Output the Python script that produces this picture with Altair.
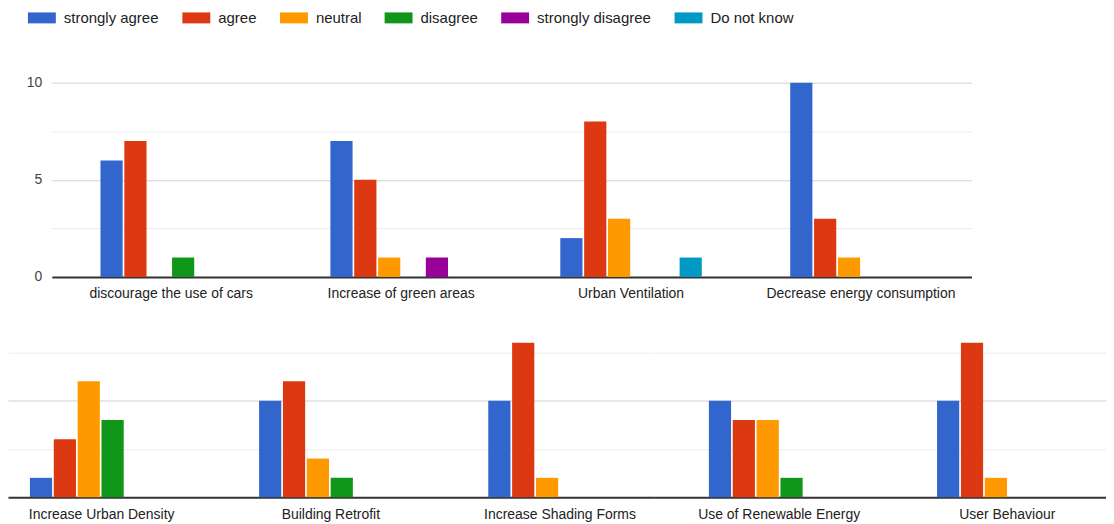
import altair as alt
import pandas as pd

responses = ["strongly agree", "agree", "neutral", "disagree", "strongly disagree", "Do not know"]
colors = ["#3366cc", "#dc3912", "#ff9900", "#109618", "#990099", "#0099c6"]

# Top panel
top_categories = ["discourage the use of cars", "Increase of green areas",
                  "Urban Ventilation", "Decrease energy consumption"]
top_strongly_agree = [6, 7, 2, 10]
top_agree = [7, 5, 8, 3]
top_neutral = [0, 1, 3, 1]
top_disagree = [1, 0, 0, 0]
top_strongly_disagree = [0, 1, 0, 0]
top_do_not_know = [0, 0, 1, 0]
top_axis_labels = [0, 5, 10]

# Bottom-left panel
bl_categories = ["Increase Urban Density", "Building Retrofit", "Increase Shading Forms"]
bl_strongly_agree = [1, 5, 5]
bl_agree = [3, 6, 8]
bl_neutral = [6, 2, 1]
bl_disagree = [4, 1, 0]
bl_strongly_disagree = [0, 0, 0]
bl_do_not_know = [0, 0, 0]

# Bottom-right panel
br_categories = ["Use of Renewable Energy", "User Behaviour"]
br_strongly_agree = [5, 5]
br_agree = [4, 8]
br_neutral = [4, 1]
br_disagree = [1, 0]
br_strongly_disagree = [0, 0]
br_do_not_know = [0, 0]

FONT = "Liberation Sans"


def frame(cats, series):
    rows = []
    for resp, vals in zip(responses, series):
        for c, v in zip(cats, vals):
            rows.append({"category": c, "response": resp, "count": v})
    return pd.DataFrame(rows)


def panel(cats, series, width, height, ymax, grid_values, pi, po, align, xpad):
    df = frame(cats, series)
    grid_color = alt.condition("datum.value % 5 === 0", alt.value("#d0d0d0"), alt.value("#ebebeb"))
    yaxis = alt.Axis(title=None, values=grid_values, labels=False,
                     domain=False, ticks=False, gridColor=grid_color)
    return alt.Chart(df).mark_bar().encode(
        x=alt.X("category:N", sort=cats,
                scale=alt.Scale(paddingInner=pi, paddingOuter=po, align=align),
                axis=alt.Axis(title=None, labelAngle=0, ticks=False, labelPadding=xpad,
                              labelFontSize=14, labelColor="#222222", labelFont=FONT,
                              labelLimit=400, domainColor="#333333", domainWidth=2,
                              grid=False)),
        xOffset=alt.XOffset("response:N", sort=responses,
                            scale=alt.Scale(paddingInner=0.07)),
        y=alt.Y("count:Q", scale=alt.Scale(domain=[0, ymax], nice=False, zero=True),
                axis=yaxis),
        color=alt.Color("response:N", sort=responses,
                        scale=alt.Scale(domain=responses, range=colors),
                        legend=alt.Legend(title=None)),
    ).properties(width=width, height=height)


# y-axis label strip for the top panel (its own column, so the lower row starts flush left)
top_labels = alt.Chart(pd.DataFrame({"v": top_axis_labels})).mark_point(opacity=0).encode(
    y=alt.Y("v:Q", scale=alt.Scale(domain=[0, 10], nice=False),
            axis=alt.Axis(title=None, values=top_axis_labels, offset=-44, labelPadding=10,
                          grid=False, ticks=False, domain=False, labelFontSize=14,
                          labelColor="#444444", labelFont=FONT))
).properties(width=44, height=195)

top = panel(top_categories,
            [top_strongly_agree, top_agree, top_neutral, top_disagree,
             top_strongly_disagree, top_do_not_know],
            923, 195, 10, [0, 2.5, 5, 7.5, 10], 0.3846, 0.1923, 0.55, 10)

bl = panel(bl_categories,
           [bl_strongly_agree, bl_agree, bl_neutral, bl_disagree,
            bl_strongly_disagree, bl_do_not_know],
           648, 155, 8, [2.5, 5, 7.5], 0.374, 0.0957, 0.5, 10)

br = panel(br_categories,
           [br_strongly_agree, br_agree, br_neutral, br_disagree,
            br_strongly_disagree, br_do_not_know],
           454, 155, 8, [2.5, 5, 7.5], 0.3843, 0.1834, 0.66, 10)

top_row = alt.hconcat(top_labels, top, spacing=0)
bottom_row = alt.hconcat(bl, br, spacing=0)

chart = alt.vconcat(top_row, bottom_row, spacing=42).properties(
    padding=0
).configure_view(stroke=None).configure_legend(
    orient="none", legendX=25, legendY=-74, direction="horizontal", columns=6,
    padding=0, symbolType="M-1.5556,-0.6111H1.5556V0.6111H-1.5556Z", symbolSize=324,
    symbolStrokeWidth=0, symbolOpacity=1, labelFontSize=15, labelFont=FONT,
    labelColor="#222222", labelOffset=13, columnPadding=22, labelLimit=300
).configure_axis(labelFont=FONT)

chart.save("out.html", embed_options={"renderer": "svg", "actions": False})
